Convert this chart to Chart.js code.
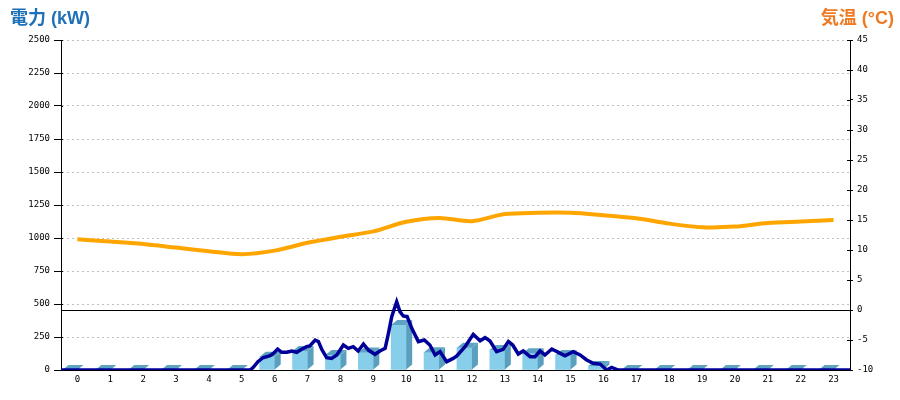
<!DOCTYPE html>
<html>
<head>
<meta charset="utf-8">
<script src="https://cdn.jsdelivr.net/npm/chart.js@4"></script>
<style>
html,body{margin:0;padding:0;background:#fff;}
canvas{display:block;}
</style>
</head>
<body>
<canvas id="c" width="900" height="400"></canvas>
<script>
// ---- data ----
const hours = ['0','1','2','3','4','5','6','7','8','9','10','11','12','13','14','15','16','17','18','19','20','21','22','23'];
const hourlyPowerKW = [0,0,0,0,0,0,100,144,114,133,341,134,169,152,126,113,30,0,0,0,0,0,0,0];
const temperatureC = [11.8,11.4,11.0,10.4,9.8,9.3,9.9,11.2,12.2,13.1,14.7,15.35,14.8,16.0,16.2,16.2,15.8,15.3,14.4,13.8,13.9,14.5,14.75,15.0];
const powerTimeH = [0,5.75,5.85,5.99,6.14,6.36,6.46,6.59,6.71,6.87,7.02,7.17,7.32,7.47,7.57,7.73,7.83,7.93,8.08,8.23,8.39,8.59,8.74,8.89,9.04,9.20,9.35,9.55,9.70,9.86,9.96,10.06,10.21,10.31,10.41,10.53,10.67,10.87,11.05,11.22,11.38,11.53,11.73,11.93,12.04,12.29,12.54,12.75,12.90,13.05,13.25,13.45,13.61,13.74,13.91,14.06,14.27,14.42,14.57,14.72,14.93,15.13,15.33,15.58,15.79,15.99,16.19,16.40,16.60,16.75,16.95,24];
const powerKW = [0,0,20,63,93,108,126,159,134,134,144,134,157,177,182,227,215,157,93,88,114,189,164,177,144,197,151,119,144,164,278,404,517,442,409,404,316,215,227,189,114,139,63,88,106,177,270,222,245,220,139,157,215,189,121,144,101,101,144,114,159,134,108,139,114,76,51,45,0,20,0,0];
const powerTicks = {min:0, max:2500, step:250};
const tempTicks = {min:-10, max:45, step:5};
const leftTitle = '電力 (kW)';
const rightTitle = '気温 (°C)';

const tickFont = {family:'"DejaVu Sans Mono", "Liberation Mono", monospace', size:9};

const bar3d = {
  id:'bar3d',
  afterDatasetDraw(chart, args){
    if (args.index !== 0) return;
    const ctx = chart.ctx, dx = 6, dy = 5;
    args.meta.data.forEach(el => {
      const {x, y, base, width} = el.getProps(['x','y','base','width'], true);
      const l = x - width/2, r = x + width/2;
      ctx.save();
      ctx.fillStyle = '#5A9FBD';
      ctx.beginPath();
      ctx.moveTo(r, y); ctx.lineTo(r+dx, y-dy); ctx.lineTo(r+dx, base-dy); ctx.lineTo(r, base); ctx.closePath();
      ctx.fill();
      ctx.fillStyle = '#5EA4C2';
      ctx.beginPath();
      ctx.moveTo(l, y); ctx.lineTo(l+dx, y-dy); ctx.lineTo(r+dx, y-dy); ctx.lineTo(r, y); ctx.closePath();
      ctx.fill();
      ctx.restore();
    });
  }
};

const decor = {
  id:'decor',
  afterDraw(chart){
    const ctx = chart.ctx;
    ctx.save();
    ctx.strokeStyle = '#000'; ctx.lineWidth = 1;
    const ys = chart.scales.y, y2 = chart.scales.y2;
    ys.ticks.forEach((t,i)=>{ const p = Math.round(ys.getPixelForTick(i))+0.5; ctx.beginPath(); ctx.moveTo(ys.right, p); ctx.lineTo(ys.right+2, p); ctx.stroke(); });
    y2.ticks.forEach((t,i)=>{ const p = Math.round(y2.getPixelForTick(i))+0.5; ctx.beginPath(); ctx.moveTo(y2.left-3, p); ctx.lineTo(y2.left, p); ctx.stroke(); });
    ctx.font = 'bold 18px "Liberation Sans", "Noto Sans CJK JP", sans-serif';
    ctx.textBaseline = 'alphabetic';
    ctx.fillStyle = '#1E70B8'; ctx.textAlign = 'left';
    ctx.fillText(leftTitle, 10, 24);
    ctx.fillStyle = '#EE7B24'; ctx.textAlign = 'right';
    ctx.fillText(rightTitle, 894, 24);
    ctx.restore();
  }
};

new Chart(document.getElementById('c'), {
  type:'bar',
  data:{
    labels: hours,
    datasets:[
      {type:'bar', data: hourlyPowerKW, backgroundColor:'#87CEEB', borderWidth:0, barThickness:15, xAxisID:'x', yAxisID:'y', order:3},
      {type:'line', data: powerTimeH.map((t,i)=>({x:t, y:powerKW[i]})), borderColor:'#000099', borderWidth:3.5, pointRadius:0, tension:0, xAxisID:'x2', yAxisID:'y', order:1},
      {type:'line', data: temperatureC, borderColor:'#FFA500', borderWidth:4, pointRadius:0, tension:0.3, xAxisID:'x', yAxisID:'y2', order:2}
    ]
  },
  options:{
    responsive:false, animation:false,
    layout:{padding:{top:40, left:0, right:0, bottom:0}},
    plugins:{legend:{display:false}, tooltip:{enabled:false}},
    scales:{
      x:{type:'category', offset:true, position:'bottom',
         grid:{display:false, drawTicks:false, tickLength:0},
         border:{display:true, color:'#000', width:1},
         ticks:{color:'#000', font:tickFont, padding:4, maxRotation:0, autoSkip:false},
         afterFit: s => { s.height = 30; }},
      x2:{type:'linear', display:false, offset:false, min:0, max:24, grid:{offset:false}},
      y:{position:'left', min:powerTicks.min, max:powerTicks.max,
         ticks:{stepSize:powerTicks.step, color:'#000', font:tickFont, padding:4, callback: v => String(v)},
         grid:{color:'#c0c0c0', tickColor:'#000', tickLength:7, tickBorderDash:[]},
         border:{display:true, color:'#000', width:1, dash:[2,3]},
         afterFit: s => { s.width = 61; }},
      y2:{position:'right', min:tempTicks.min, max:tempTicks.max,
         ticks:{stepSize:tempTicks.step, color:'#000', font:tickFont, padding:4, callback: v => String(v)},
         grid:{color: c => (c.tick && c.tick.value === 0) ? '#000' : 'rgba(0,0,0,0)', tickColor:'#000', tickLength:3},
         border:{display:true, color:'#000', width:1},
         afterFit: s => { s.width = 50; }}
    }
  },
  plugins:[bar3d, decor]
});
</script>
</body>
</html>
